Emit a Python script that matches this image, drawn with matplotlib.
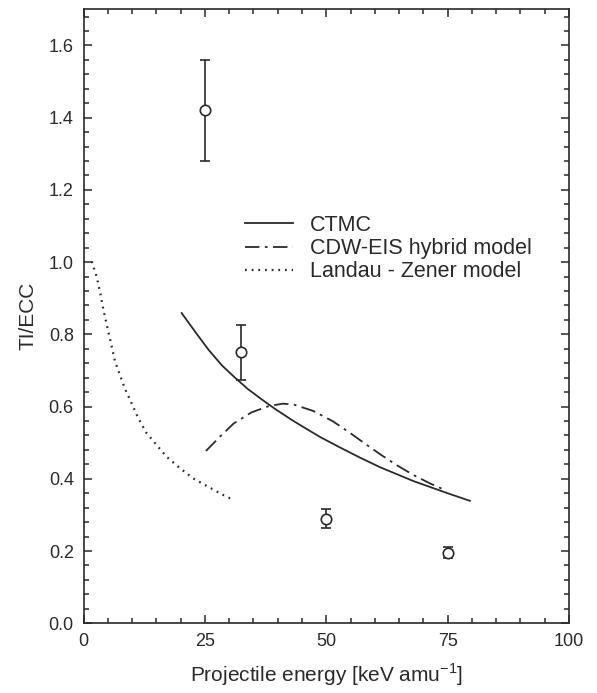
import numpy as np
import matplotlib
matplotlib.use("Agg")
import matplotlib.pyplot as plt
from matplotlib.ticker import MultipleLocator, FormatStrFormatter

plt.rcParams['font.family'] = ['Liberation Sans', 'DejaVu Sans']

# measured TI/ECC ratios
exp_energy = [25, 32.4, 50, 75]
exp_ratio = [1.42, 0.75, 0.29, 0.195]
exp_err = [0.14, 0.076, 0.027, 0.015]

# CTMC
ctmc_energy = [20.2, 23.0, 25.7, 28.5, 31.2, 33.9, 36.7, 39.4, 42.9, 44.6, 48.7, 52.8,
               56.9, 61.1, 67.9, 74.8, 79.6]
ctmc_ratio = [0.859, 0.807, 0.758, 0.714, 0.680, 0.648, 0.620, 0.594, 0.563, 0.549, 0.516, 0.487,
              0.459, 0.432, 0.394, 0.361, 0.339]

# CDW-EIS hybrid model
cdw_energy = [25.2, 28.5, 30.9, 34.6, 38.1, 41.0, 43.2, 47.3, 51.4, 54.9, 57.6, 61.1,
              64.5, 67.9, 71.4, 74.8]
cdw_ratio = [0.477, 0.522, 0.553, 0.584, 0.601, 0.608, 0.606, 0.588, 0.559, 0.527, 0.501, 0.468,
             0.438, 0.411, 0.387, 0.367]

# Landau - Zener model
lz_energy = [1.7, 2.7, 3.4, 4.1, 4.8, 5.5, 6.5, 7.5, 8.5, 9.9, 11.3, 13.0, 15.1, 17.1,
             19.9, 22.6, 25.7, 28.5, 30.2]
lz_ratio = [1.002, 0.959, 0.917, 0.867, 0.825, 0.784, 0.724, 0.687, 0.650, 0.609, 0.567, 0.526,
            0.493, 0.461, 0.429, 0.401, 0.378, 0.357, 0.346]

ink = '#2a2a2a'

fig = plt.figure(figsize=(5.97, 6.93), dpi=100)
ax = fig.add_axes([0.14, 0.1006, 0.813, 0.886])

ax.plot(ctmc_energy, ctmc_ratio, '-', color=ink, lw=1.3, label='CTMC')
ax.plot(cdw_energy, cdw_ratio, color=ink, lw=1.3, dashes=(8, 3, 1.5, 3),
        label='CDW-EIS hybrid model')
ax.plot(lz_energy, lz_ratio, color=ink, lw=1.6, dashes=(0.8, 2.2),
        label='Landau - Zener model')
ax.errorbar(exp_energy, exp_ratio, yerr=exp_err, fmt='o', mfc='white', mec=ink,
            ms=7.5, mew=1.2, ecolor=ink, elinewidth=1.2, capsize=3.5, capthick=1.2)

ax.set_xlim(0, 100)
ax.set_ylim(0, 1.7)
ax.xaxis.set_major_locator(MultipleLocator(25))
ax.xaxis.set_minor_locator(MultipleLocator(5))
ax.yaxis.set_major_locator(MultipleLocator(0.2))
ax.yaxis.set_minor_locator(MultipleLocator(0.04))
ax.yaxis.set_major_formatter(FormatStrFormatter('%.1f'))
ax.tick_params(which='both', direction='in', top=True, right=True, width=1.1,
               labelsize=13, colors=ink, pad=7)
ax.tick_params(which='major', length=6)
ax.tick_params(which='minor', length=3.5)
for s in ax.spines.values():
    s.set_linewidth(1.2)
    s.set_color(ink)

ax.set_xlabel('Projectile energy [keV amu$^{\\mathregular{-1}}$]', fontsize=15, color=ink,
              labelpad=8)
ax.set_ylabel('TI/ECC', fontsize=15, color=ink, labelpad=8)

leg = ax.legend(loc='upper left', bbox_to_anchor=(0.333, 0.665), frameon=False,
                fontsize=15.5, handlelength=2.2, handletextpad=0.8, labelspacing=0.1,
                borderpad=0, borderaxespad=0)
for t in leg.get_texts():
    t.set_color(ink)

fig.savefig('out.png', dpi=100)
